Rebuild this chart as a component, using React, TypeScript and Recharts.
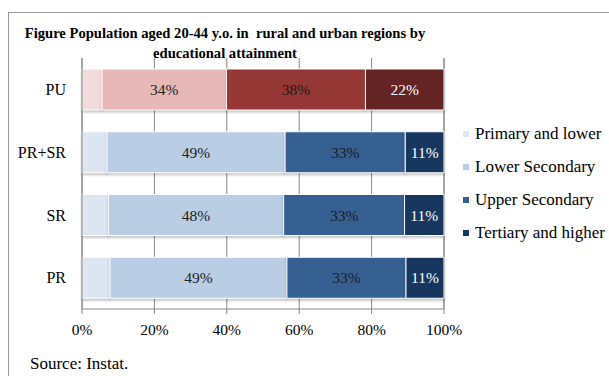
import React from 'react';
import { BarChart, Bar, XAxis, YAxis, CartesianGrid, LabelList, Cell } from 'recharts';

const categories = ['PU', 'PR+SR', 'SR', 'PR'];
const primary = [5.5, 6.9, 7.3, 7.7];
const lowerSec = [34.4, 49.2, 48.4, 48.9];
const upperSec = [38.4, 33.2, 33.4, 32.9];
const tertiary = [21.7, 10.7, 10.9, 10.5];
const xTicks = [0, 20, 40, 60, 80, 100];

const seriesNames = ['Primary and lower', 'Lower Secondary', 'Upper Secondary', 'Tertiary and higher'];
const blueColors = ['#dce6f2', '#b9cde5', '#376092', '#17375e'];
const redColors = ['#f2dcdb', '#e6b9b8', '#953735', '#632423'];
const labelColors = ['#222', '#222', '#1a1a1a', '#fff'];
const seriesKeys = ['primary', 'lowerSec', 'upperSec', 'tertiary'];

const FONT = '"Liberation Serif", "Times New Roman", serif';

const data = categories.map((name, i) => ({
  name,
  primary: primary[i],
  lowerSec: lowerSec[i],
  upperSec: upperSec[i],
  tertiary: tertiary[i],
}));

const App = () => {
  return (
    <div style={{ position: 'absolute', left: 0, top: 0, width: 609, height: 376, background: '#fff', overflow: 'hidden', fontFamily: FONT }}>
      <style>{`.recharts-bar-rectangle path { filter: drop-shadow(0px 2px 1px rgba(0,0,0,0.22)); }`}</style>
      <div style={{ position: 'absolute', left: 8, top: 12, width: 700, height: 400, borderLeft: '1px solid #999', borderTop: '1px solid #999' }} />
      <BarChart
        width={609}
        height={376}
        data={data}
        layout="vertical"
        margin={{ top: 58, right: 165, bottom: 37, left: 12 }}
        style={{ position: 'absolute', left: 0, top: 0, fontFamily: FONT }}
      >
        <CartesianGrid horizontal={false} stroke="#888" />
        <XAxis
          type="number"
          domain={[0, 100]}
          ticks={xTicks}
          tickFormatter={(v) => `${v}%`}
          stroke="#888"
          tickSize={5}
          tickMargin={10}
          height={30}
          tick={{ fill: '#000', fontSize: 15.5 }}
        />
        <YAxis
          type="category"
          dataKey="name"
          width={70}
          stroke="#888"
          tickLine={false}
          tickSize={0}
          tickMargin={16}
          tick={{ fill: '#000', fontSize: 16 }}
        />
        {seriesKeys.map((key, si) => (
          <Bar
            key={key}
            dataKey={key}
            name={seriesNames[si]}
            stackId="a"
            fill={blueColors[si]}
            stroke="#fff"
            strokeWidth={1}
            barSize={41}
            isAnimationActive={false}
          >
            {data.map((d, i) => (
              <Cell key={d.name} fill={i === 0 ? redColors[si] : blueColors[si]} />
            ))}
            {si > 0 && (
              <LabelList
                dataKey={key}
                position="center"
                fill={labelColors[si]}
                fontSize={15.5}
                formatter={(v: number) => `${Math.round(v)}%`}
              />
            )}
          </Bar>
        ))}
      </BarChart>
      <div style={{ position: 'absolute', left: 0, top: 23, width: 450, textAlign: 'center', fontWeight: 'bold', fontSize: 14.6, lineHeight: '20px', whiteSpace: 'pre', color: '#000' }}>
        {'Figure Population aged 20-44 y.o. in  rural and urban regions by\neducational attainment'}
      </div>
      <div style={{ position: 'absolute', left: 463, top: 117, fontSize: 17, color: '#000' }}>
        {seriesNames.map((s, i) => (
          <div key={s} style={{ display: 'flex', alignItems: 'center', height: 33 }}>
            <span style={{ width: 6, height: 6, background: blueColors[i], marginRight: 6, display: 'inline-block' }} />
            <span>{s}</span>
          </div>
        ))}
      </div>
      <div style={{ position: 'absolute', left: 30, top: 354, fontSize: 17, color: '#000' }}>Source: Instat.</div>
    </div>
  );
};

export default App;
